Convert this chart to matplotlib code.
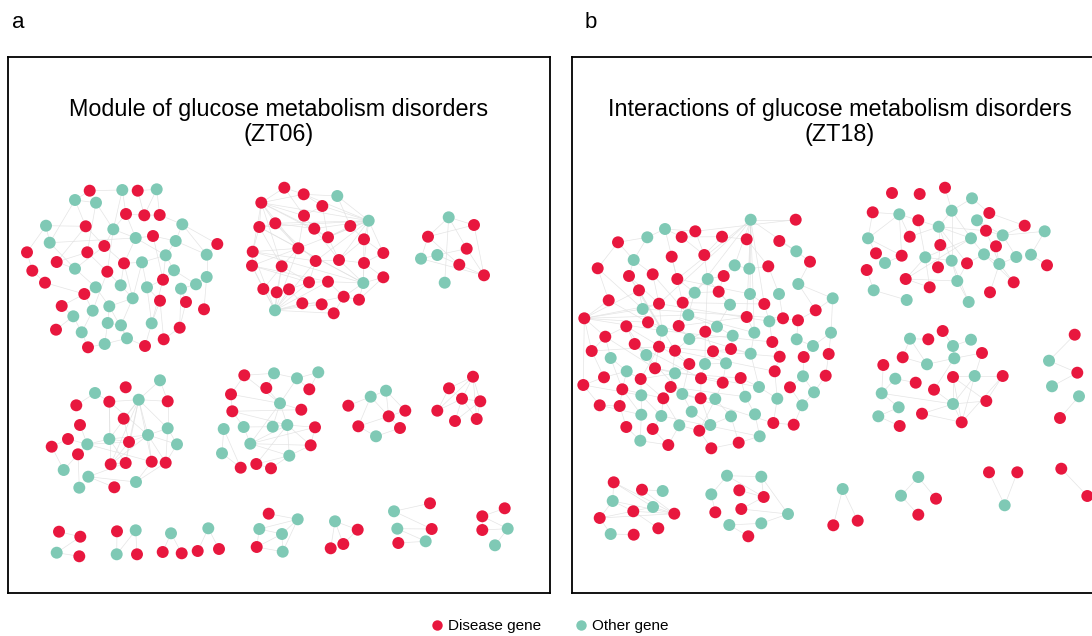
import matplotlib
matplotlib.use('Agg')
import matplotlib.pyplot as plt
from matplotlib.collections import LineCollection
from matplotlib.lines import Line2D

plt.rcParams['font.family'] = ['Liberation Sans', 'DejaVu Sans']

RED = '#e8173e'
TEAL = '#7fc9b5'
EDGE = '#e0e0e0'

# Layout of each gene module: (x, y, kind), D = disease gene, O = other gene
# ---- ZT06 ----
a1_nodes = [(89.7, 190.7, 'D'), (122.3, 190, 'O'), (137.7, 190.7, 'D'), (156.7, 189.3, 'O'),
            (75, 200, 'O'), (96, 202.7, 'O'), (126, 214, 'D'), (144.3, 215.3, 'D'),
            (159.7, 215, 'D'), (46, 225.7, 'O'), (85.7, 226.3, 'D'), (113.3, 229.3, 'O'),
            (182.3, 224.3, 'O'), (153, 236, 'D'), (135.7, 238, 'O'), (175.7, 241, 'O'),
            (217.3, 244, 'D'), (49.7, 242.7, 'O'), (104.3, 246, 'D'), (87.3, 252.3, 'D'),
            (27, 252.3, 'D'), (165.7, 255.3, 'O'), (206.7, 254.7, 'O'), (56.7, 262, 'D'),
            (124, 263.3, 'D'), (142, 262.3, 'O'), (32.3, 270.7, 'D'), (75, 268.7, 'O'),
            (107.3, 271.7, 'D'), (174, 270.3, 'O'), (45, 282.7, 'D'), (163, 279.7, 'D'),
            (206.7, 277, 'O'), (196, 284.3, 'O'), (95.7, 287.3, 'O'), (120.7, 285.3, 'O'),
            (147, 287.3, 'O'), (181, 288.7, 'O'), (84.3, 294, 'D'), (132.7, 298.3, 'O'),
            (160, 300.7, 'D'), (186, 302, 'D'), (204, 309.3, 'D'), (61.7, 306, 'D'),
            (109.3, 306.3, 'O'), (92.7, 310.7, 'O'), (73.3, 316.3, 'O'), (107.7, 323, 'O'),
            (121, 325.3, 'O'), (151.7, 323.3, 'O'), (179.7, 327.7, 'D'), (56, 329.7, 'D'),
            (81.7, 332.3, 'O'), (127, 338.3, 'O'), (163.7, 339.3, 'D'), (88, 347.3, 'D'),
            (104.7, 344, 'O'), (145, 346, 'D')]
a1_edges = [(0, 1), (2, 3), (0, 4), (4, 5), (5, 11), (4, 17), (4, 10), (5, 19), (6, 7), (7, 8),
            (8, 12), (3, 8), (1, 6), (6, 11), (11, 14), (9, 10), (9, 17), (9, 20), (10, 18),
            (11, 18), (12, 15), (12, 22), (13, 14), (13, 15), (14, 21), (15, 21), (16, 22),
            (15, 22), (17, 27), (17, 14), (18, 24), (18, 27), (19, 23), (20, 26), (21, 25),
            (21, 29), (22, 32), (23, 27), (24, 25), (24, 35), (24, 39), (25, 36), (26, 30),
            (27, 34), (28, 35), (28, 19), (29, 31), (29, 33), (30, 38), (31, 36), (31, 49),
            (32, 33), (32, 42), (33, 37), (34, 38), (34, 44), (35, 39), (36, 40), (37, 41),
            (37, 50), (38, 45), (39, 44), (39, 48), (40, 49), (40, 54), (41, 50), (43, 46),
            (43, 38), (44, 47), (45, 52), (46, 51), (46, 52), (47, 56), (47, 48), (48, 53),
            (49, 57), (50, 54), (52, 55), (53, 57), (53, 56), (55, 56), (14, 24), (3, 7),
            (11, 28), (13, 31), (25, 39), (28, 45), (6, 14), (16, 12), (2, 7), (1, 11),
            (10, 23), (36, 49), (44, 53), (21, 31)]

a2_nodes = [(284.3, 187.7, 'D'), (303.7, 194.3, 'D'), (337.3, 196, 'O'), (261.3, 202.7, 'D'),
            (322.3, 206, 'D'), (304, 215.7, 'D'), (368.7, 220.7, 'O'), (259.3, 227, 'D'),
            (275.3, 223.3, 'D'), (314.3, 228.7, 'D'), (350.3, 226, 'D'), (328, 237.3, 'D'),
            (364, 239.3, 'D'), (298.3, 248.3, 'D'), (252.7, 251.7, 'D'), (383.3, 253, 'D'),
            (315.7, 261, 'D'), (339, 260, 'D'), (252, 265.7, 'D'), (281.7, 266.3, 'D'),
            (364, 263, 'D'), (309, 282.3, 'D'), (328, 281.7, 'D'), (363.3, 283, 'O'),
            (383.3, 277.3, 'D'), (263.3, 289, 'D'), (276.7, 292.3, 'D'), (289, 289.3, 'D'),
            (343.7, 296.7, 'D'), (359, 299.7, 'D'), (302.3, 303.3, 'D'), (321.7, 304.3, 'D'),
            (275, 310.3, 'O'), (333.7, 313.3, 'D')]
a2_edges = [(3, 0), (3, 1), (3, 5), (3, 8), (3, 9), (3, 11), (3, 13), (3, 6), (3, 7), (3, 14),
            (3, 19), (6, 2), (6, 4), (6, 10), (6, 11), (6, 12), (6, 13), (6, 16), (6, 17),
            (6, 7), (6, 8), (6, 15), (6, 20), (6, 9), (6, 1), (32, 25), (32, 26), (32, 27),
            (32, 30), (32, 21), (32, 13), (32, 14), (32, 18), (32, 22), (32, 16), (32, 28),
            (32, 31), (32, 33), (32, 19), (23, 20), (23, 24), (23, 22), (23, 17), (23, 29),
            (23, 28), (23, 13), (23, 14), (23, 7), (23, 12), (0, 1), (1, 2), (1, 4), (4, 5),
            (5, 9), (8, 13), (7, 14), (14, 18), (18, 25), (25, 26), (26, 27), (27, 30),
            (30, 31), (31, 33), (28, 29), (28, 33), (21, 22), (21, 16), (16, 17), (17, 20),
            (20, 24), (12, 15), (10, 12), (9, 11), (11, 17), (13, 19), (19, 21), (8, 9),
            (7, 8), (10, 11), (7, 19), (14, 16), (18, 22), (18, 21), (24, 29), (15, 20),
            (2, 10), (5, 13), (8, 16), (9, 17), (22, 28), (27, 21), (26, 19), (0, 5),
            (4, 11), (12, 17), (14, 13), (18, 13), (7, 13), (25, 19)]

a3_nodes = [(448.7, 217.3, 'O'), (474, 225, 'D'), (428, 236.7, 'D'), (466.7, 248.7, 'D'),
            (437.3, 255, 'O'), (421, 258.7, 'O'), (459.3, 264.7, 'D'), (484, 275.3, 'D'),
            (444.7, 282.7, 'O')]
a3_edges = [(0, 2), (0, 1), (0, 3), (0, 8), (2, 1), (1, 7), (2, 5), (2, 6), (4, 3), (4, 6),
            (5, 7), (6, 7), (3, 7), (4, 5)]

a4_nodes = [(160, 380.3, 'O'), (95, 393, 'O'), (125.7, 387.3, 'D'), (109.3, 401.7, 'D'),
            (138.7, 399.7, 'O'), (167.7, 401.3, 'D'), (76.3, 405.3, 'D'), (123.7, 418.7, 'D'),
            (80, 425, 'D'), (167.7, 428.3, 'O'), (68, 439, 'D'), (109.3, 439, 'O'),
            (148, 435, 'O'), (129, 442, 'D'), (87.3, 444.3, 'O'), (177, 444.3, 'O'),
            (51.7, 446.7, 'D'), (78, 454.3, 'D'), (110.7, 464.3, 'D'), (125.7, 463, 'D'),
            (151.7, 461.7, 'D'), (165.7, 462.7, 'D'), (63.7, 470, 'O'), (88.3, 476.7, 'O'),
            (136, 482, 'O'), (79.3, 487.7, 'O'), (114.3, 487.3, 'D')]
a4_edges = [(0, 4), (0, 5), (1, 3), (1, 6), (3, 4), (4, 5), (4, 7), (4, 12), (4, 13), (4, 19),
            (4, 18), (4, 9), (4, 20), (3, 11), (3, 18), (7, 13), (8, 14), (10, 14), (10, 16),
            (16, 22), (14, 17), (14, 11), (11, 13), (11, 12), (12, 13), (12, 15), (12, 9),
            (13, 18), (13, 19), (12, 21), (12, 20), (9, 21), (5, 9), (15, 21), (17, 25),
            (22, 17), (23, 24), (23, 19), (24, 20), (24, 21), (18, 19), (23, 26), (14, 13),
            (11, 19), (12, 18), (3, 12), (9, 15), (14, 20), (4, 11)]

a5_nodes = [(244.3, 375.3, 'D'), (274, 373.3, 'O'), (297, 378.3, 'O'), (318.3, 372.3, 'O'),
            (266.3, 388, 'D'), (309.3, 389.3, 'D'), (231, 394.3, 'D'), (280, 403.3, 'O'),
            (232.3, 411.3, 'D'), (301.3, 409.7, 'D'), (223.7, 429, 'O'), (243.7, 427, 'O'),
            (272.7, 426.7, 'O'), (287.3, 425, 'O'), (315, 427.3, 'D'), (250.3, 443.7, 'O'),
            (310.7, 445.3, 'D'), (222, 453.3, 'O'), (289.3, 455.7, 'O'), (240.7, 467.7, 'D'),
            (256.3, 464, 'D'), (271, 468.3, 'D')]
a5_edges = [(0, 1), (1, 2), (2, 3), (2, 5), (3, 5), (0, 6), (0, 7), (1, 4), (2, 7), (6, 8),
            (7, 9), (7, 13), (7, 15), (7, 12), (8, 9), (8, 13), (10, 17), (10, 19), (11, 12),
            (11, 15), (12, 13), (13, 14), (13, 15), (13, 16), (13, 18), (14, 16), (15, 16),
            (15, 18), (16, 18), (18, 20), (18, 21), (20, 21), (17, 19), (6, 7), (8, 11),
            (15, 14), (13, 20), (4, 7)]

a6_nodes = [(348.3, 405.7, 'D'), (370.7, 396.7, 'O'), (386, 390.7, 'O'), (388.7, 416.3, 'D'),
            (405.3, 410.7, 'D'), (358.3, 426.3, 'D'), (400, 428, 'D'), (376, 436.3, 'O')]
a6_edges = [(0, 1), (1, 2), (1, 3), (2, 3), (2, 4), (3, 5), (3, 6), (5, 7), (7, 6), (1, 5),
            (3, 4)]

a7_nodes = [(473, 376.7, 'D'), (449, 388.3, 'D'), (462, 398.7, 'D'), (480.3, 401.3, 'D'),
            (437.3, 410.7, 'D'), (455, 421, 'D'), (476.7, 419, 'D')]
a7_edges = [(0, 1), (0, 2), (0, 3), (0, 4), (1, 2), (1, 4), (2, 3), (2, 5), (3, 6), (4, 2),
            (5, 3), (0, 6), (2, 6)]

a8_nodes = [(59, 531.7, 'D'), (80.3, 536.7, 'D'), (56.7, 552.7, 'O'), (79.3, 556.3, 'D')]
a8_edges = [(0, 1), (1, 2), (2, 3)]
a9_nodes = [(117, 531.3, 'D'), (135.7, 530.3, 'O'), (116.7, 554.3, 'O'), (137, 554.3, 'D')]
a9_edges = [(0, 2), (1, 2), (1, 3)]
a10_nodes = [(171, 533.3, 'O'), (162.7, 552, 'D'), (181.7, 553.3, 'D')]
a10_edges = [(0, 1), (0, 2)]
a11_nodes = [(208.3, 528.3, 'O'), (197.7, 551, 'D'), (219, 549, 'D')]
a11_edges = [(0, 1), (0, 2)]
a12_nodes = [(268.7, 513.7, 'D'), (297.7, 519.3, 'O'), (259.3, 529, 'O'), (282, 534, 'O'),
             (256.7, 547, 'D'), (282.7, 551.7, 'O')]
a12_edges = [(0, 1), (2, 1), (2, 3), (1, 3), (2, 4), (4, 3), (4, 5), (3, 5), (1, 5)]
a13_nodes = [(335, 521.3, 'O'), (357.7, 529.7, 'D'), (343.3, 544, 'D'), (330.7, 548.3, 'D')]
a13_edges = [(0, 1), (0, 2), (0, 3), (1, 2)]
a14_nodes = [(394, 511.3, 'O'), (430, 503.3, 'D'), (397.3, 528.7, 'O'), (431.7, 529, 'D'),
             (398.3, 543, 'D'), (425.7, 541.3, 'O')]
a14_edges = [(0, 1), (0, 3), (2, 3), (2, 5), (4, 5)]
a15_nodes = [(504.7, 508.3, 'D'), (482.3, 516.3, 'D'), (482.3, 530, 'D'), (507.7, 528.7, 'O'),
             (495, 545.3, 'O')]
a15_edges = [(0, 1), (1, 3), (2, 3), (3, 4), (1, 2)]

# ---- ZT18 ----
b1_nodes = [(665, 229, 'O'), (695.3, 231.3, 'D'), (647.3, 237.3, 'O'), (681.7, 237, 'D'),
            (618, 242.3, 'D'), (671.7, 256.7, 'D'), (704.3, 255, 'D'), (633.7, 260, 'O'),
            (597.7, 268.3, 'D'), (629, 276, 'D'), (652.7, 274.3, 'D'), (677.3, 279, 'D'),
            (707.7, 279, 'O'), (639, 290.3, 'D'), (694.7, 292.7, 'O'), (608.7, 300.3, 'D'),
            (659, 303.7, 'D'), (682.7, 302.7, 'D'), (642.7, 309, 'O'), (688.3, 315, 'O'),
            (584.3, 318.3, 'D'), (648, 322.3, 'D'), (626.3, 326.3, 'D'), (678.7, 326, 'D'),
            (662, 330.7, 'O'), (705.3, 331.7, 'D'), (605.3, 336.7, 'D'), (689.3, 339, 'O'),
            (634.7, 344, 'D'), (659, 346.7, 'D'), (675, 350.7, 'D'), (591.7, 351, 'D'),
            (646.3, 355, 'O'), (610.7, 358, 'O'), (689.3, 364, 'D'), (705, 364, 'O'),
            (655, 368.3, 'D'), (626.7, 371.3, 'O'), (675, 373.3, 'O'), (604, 377.3, 'D'),
            (640.7, 379, 'D'), (701, 378.3, 'D'), (583.3, 385, 'D'), (622.3, 389.3, 'D'),
            (670.7, 387, 'D'), (641.3, 395.3, 'O'), (682.3, 394, 'O'), (663.3, 398.3, 'D'),
            (700.7, 398.3, 'D'), (599.7, 405.3, 'D'), (619.7, 406, 'D'), (691.7, 411.7, 'O'),
            (641.3, 414.7, 'O'), (661.3, 416, 'O'), (710.3, 425, 'O'), (626.3, 427, 'D'),
            (652.7, 429, 'D'), (679.3, 425.3, 'O'), (699.3, 430.7, 'D'), (640.3, 440.7, 'O'),
            (668.3, 445, 'D'), (711.3, 448.3, 'D'),
            (750.7, 219.7, 'O'), (795.7, 219.7, 'D'), (722, 236.7, 'D'), (746.7, 239.3, 'D'),
            (779.3, 241, 'D'), (796.3, 251.3, 'O'), (810, 261.7, 'D'), (734.7, 265.3, 'O'),
            (749.3, 268.7, 'O'), (768.3, 266.3, 'D'), (723.7, 276, 'D'), (798.3, 284, 'O'),
            (718.7, 291.7, 'D'), (750, 294, 'O'), (779, 294, 'O'), (832.7, 298.3, 'O'),
            (730, 304.7, 'O'), (764.3, 304, 'D'), (815.7, 310.3, 'D'), (746.7, 317, 'D'),
            (783, 318.3, 'D'), (798, 320.3, 'D'), (769.3, 321.3, 'O'), (717, 326.7, 'O'),
            (732.7, 335.7, 'O'), (754.3, 332.7, 'O'), (831, 332.7, 'O'), (796.7, 339.3, 'O'),
            (772.3, 342, 'D'), (813, 346, 'O'), (713, 351.3, 'D'), (731, 349, 'D'),
            (750.7, 353.7, 'O'), (779.7, 356.7, 'D'), (803.7, 357, 'D'), (828.7, 354, 'D'),
            (726, 363.3, 'O'), (774.7, 371.3, 'D'), (803, 376.3, 'O'), (825.7, 375.7, 'D'),
            (722.7, 382.7, 'D'), (740.7, 378, 'D'), (759, 387, 'O'), (790, 387.3, 'D'),
            (814, 392.3, 'O'), (715.3, 399, 'O'), (745.3, 396.7, 'O'), (777.3, 398.7, 'O'),
            (802.3, 405.3, 'O'), (731, 416.3, 'O'), (755, 414.3, 'O'), (773.3, 423, 'D'),
            (793.7, 424.7, 'D'), (759.7, 436.3, 'O'), (738.7, 442.7, 'D')]
b1_edges = [(0, 1), (0, 2), (0, 3), (0, 5), (2, 4), (2, 7), (4, 8), (4, 7), (7, 9), (7, 10),
            (5, 11), (3, 6), (6, 12), (1, 6), (8, 15), (9, 13), (10, 16), (11, 14), (12, 14),
            (12, 72), (13, 18), (14, 17), (15, 20), (16, 18), (16, 24), (17, 19), (18, 21),
            (19, 23), (20, 26), (20, 31), (20, 42), (20, 13), (20, 18), (20, 21), (20, 24),
            (20, 16), (20, 19), (21, 24), (22, 28), (22, 26), (23, 27), (24, 29), (25, 27),
            (25, 35), (26, 31), (26, 33), (27, 30), (28, 32), (29, 36), (30, 34), (31, 39),
            (32, 36), (33, 37), (34, 38), (35, 41), (36, 38), (37, 40), (37, 43), (38, 44),
            (39, 42), (40, 45), (41, 48), (42, 49), (43, 50), (44, 47), (45, 52), (46, 51),
            (46, 48), (47, 53), (49, 50), (50, 55), (51, 54), (52, 59), (53, 56), (54, 58),
            (55, 59), (56, 60), (57, 58), (57, 60), (58, 61), (59, 60), (9, 16), (13, 24),
            (14, 19), (17, 23), (22, 32), (28, 36), (29, 40), (30, 44), (33, 43), (34, 46),
            (40, 47), (43, 52), (45, 53), (47, 57), (48, 54), (12, 25), (6, 64), (3, 64),
            (1, 63), (62, 63), (62, 65), (62, 69), (62, 70), (62, 75), (62, 79), (62, 81),
            (62, 11), (62, 16), (62, 14), (62, 67), (62, 87), (64, 65), (65, 71), (66, 67),
            (67, 68), (68, 73), (69, 72), (69, 70), (70, 71), (71, 76), (72, 74), (73, 77),
            (73, 80), (74, 78), (75, 79), (76, 82), (77, 80), (77, 88), (78, 85), (79, 84),
            (80, 83), (81, 87), (82, 83), (82, 84), (83, 89), (84, 90), (85, 86), (86, 93),
            (87, 94), (88, 91), (88, 97), (89, 91), (90, 95), (91, 96), (92, 93), (92, 98),
            (93, 94), (94, 104), (95, 99), (96, 100), (97, 101), (98, 102), (99, 109),
            (100, 105), (100, 106), (101, 106), (102, 107), (103, 104), (103, 108), (104, 109),
            (105, 110), (106, 110), (107, 111), (108, 112), (109, 113), (110, 114), (111, 116),
            (112, 115), (113, 114), (115, 116), (12, 78), (14, 74), (19, 85), (25, 92),
            (27, 86), (35, 98), (41, 102), (48, 107), (54, 111), (61, 116), (58, 107),
            (23, 81), (17, 79), (11, 75), (19, 87), (24, 90), (29, 95), (30, 99), (36, 104),
            (38, 103), (44, 108), (46, 113), (53, 115), (21, 94), (16, 84), (18, 82), (13, 30),
            (9, 24), (22, 34), (31, 29), (26, 36), (8, 18), (15, 21), (39, 37), (42, 45),
            (49, 52), (10, 19), (5, 17), (28, 41), (32, 46), (40, 38), (43, 47)]

b2_nodes = [(945, 187.7, 'D'), (892, 193, 'D'), (919.7, 194, 'D'), (972, 198.3, 'O'),
            (872.7, 212.3, 'D'), (899.3, 214.3, 'O'), (951.7, 210.7, 'O'), (989.3, 213, 'D'),
            (918.3, 220.3, 'D'), (977, 220.3, 'O'), (1024.7, 225.7, 'D'), (938.7, 226.7, 'O'),
            (986, 230.7, 'D'), (1044.7, 231.3, 'O'), (868, 238.3, 'O'), (909.7, 236.7, 'D'),
            (1002.7, 235.3, 'O'), (971, 238.3, 'O'), (940.3, 245, 'D'), (996, 246.3, 'D'),
            (876, 253.3, 'D'), (901.7, 255.7, 'D'), (925.3, 257.3, 'O'), (984, 254.3, 'O'),
            (1016.3, 257, 'O'), (1031, 254.7, 'O'), (885, 263, 'O'), (951.7, 260.7, 'O'),
            (967, 263.3, 'D'), (999.3, 264, 'O'), (1047, 265.3, 'D'), (938, 267.3, 'D'),
            (866.7, 270, 'D'), (905.7, 279, 'D'), (957.3, 281, 'O'), (1013.7, 282.3, 'D'),
            (929.7, 287.3, 'D'), (873.7, 290.3, 'O'), (990, 292.3, 'D'), (906.7, 300, 'O'),
            (968.7, 302, 'O')]
b2_edges = [(0, 6), (3, 6), (3, 7), (6, 11), (6, 27), (6, 17), (4, 5), (4, 14), (5, 8),
            (5, 14), (5, 15), (5, 21), (8, 11), (8, 22), (11, 17), (11, 12), (11, 18),
            (11, 27), (11, 28), (9, 12), (7, 10), (10, 16), (12, 16), (16, 19), (16, 24),
            (16, 13), (13, 25), (25, 30), (17, 23), (17, 22), (18, 31), (22, 27), (22, 33),
            (22, 36), (23, 29), (19, 29), (27, 34), (27, 40), (28, 34), (28, 23), (29, 35),
            (29, 38), (14, 20), (32, 37), (37, 39), (33, 34), (33, 36), (21, 14), (34, 40),
            (17, 33), (12, 29), (23, 35), (11, 15), (9, 16), (24, 29), (26, 21)]

b3_nodes = [(942.7, 331, 'D'), (910, 338.7, 'O'), (928.3, 339.3, 'D'), (971, 339.7, 'O'),
            (953, 346, 'O'), (982, 353, 'D'), (902.7, 357.3, 'D'), (954.3, 358.3, 'O'),
            (883.3, 365, 'D'), (927, 364.3, 'O'), (953, 377, 'D'), (974.7, 376, 'O'),
            (1002.7, 376, 'D'), (895.3, 378.7, 'O'), (915.7, 382.7, 'D'), (934, 389.7, 'D'),
            (881.7, 393.3, 'O'), (986.3, 401, 'D'), (953, 404, 'O'), (898.7, 407.3, 'O'),
            (922, 413.7, 'D'), (878.3, 416.3, 'O'), (961.7, 422.3, 'D'), (899.7, 426, 'D')]
b3_edges = [(0, 4), (1, 2), (1, 9), (3, 4), (4, 7), (5, 7), (5, 11), (6, 9), (7, 9), (8, 16),
            (10, 11), (10, 18), (10, 22), (10, 17), (11, 12), (11, 18), (11, 22), (12, 17),
            (12, 22), (13, 14), (15, 18), (16, 19), (16, 18), (17, 18), (18, 20), (18, 22),
            (19, 21), (20, 22), (21, 23), (15, 7), (6, 1), (13, 16)]

b4_nodes = [(1074.7, 334.7, 'D'), (1049, 360.7, 'O'), (1077.3, 372.7, 'D'), (1052, 386.3, 'O'),
            (1079, 396.3, 'O'), (1060, 418, 'D')]
b4_edges = [(0, 1), (1, 2), (3, 2), (4, 5)]

b5_nodes = [(613.7, 482.3, 'D'), (642, 489.7, 'D'), (662.7, 491, 'O'), (612.7, 501, 'O'),
            (653, 507, 'O'), (633.3, 511.3, 'D'), (674.3, 513.7, 'D'), (599.7, 518, 'D'),
            (658.3, 528.3, 'D'), (610.7, 534, 'O'), (633.7, 534.7, 'D')]
b5_edges = [(0, 3), (0, 6), (0, 4), (3, 7), (3, 5), (3, 6), (7, 6), (7, 4), (5, 6), (4, 6),
            (5, 8), (7, 9), (9, 10), (1, 2), (1, 6)]

b6_nodes = [(727, 475.7, 'O'), (761.3, 476.7, 'O'), (739.3, 490.3, 'D'), (711.3, 494.3, 'O'),
            (763.7, 497, 'D'), (741.3, 509, 'D'), (715.3, 512.3, 'D'), (788, 514, 'O'),
            (729.3, 525, 'O'), (761.3, 523.3, 'O'), (748.3, 536.3, 'D')]
b6_edges = [(0, 1), (0, 3), (0, 4), (1, 4), (1, 7), (3, 6), (2, 4), (4, 5), (5, 7), (8, 9),
            (9, 7), (8, 10)]

b7_nodes = [(842.7, 489, 'O'), (833.3, 525.3, 'D'), (857.7, 520.7, 'D')]
b7_edges = [(0, 1), (0, 2)]
b8_nodes = [(918.3, 477, 'O'), (901, 495.7, 'O'), (936, 498.7, 'D'), (918.3, 514.7, 'D')]
b8_edges = [(0, 1), (0, 2), (1, 3)]
b9_nodes = [(989, 472.3, 'D'), (1017.3, 472.3, 'D'), (1004.7, 505.3, 'O')]
b9_edges = [(0, 2), (1, 2)]
b10_nodes = [(1061.3, 468.7, 'D'), (1087.3, 496, 'D')]
b10_edges = [(0, 1)]

panel_a = [(a1_nodes, a1_edges), (a2_nodes, a2_edges), (a3_nodes, a3_edges),
           (a4_nodes, a4_edges), (a5_nodes, a5_edges), (a6_nodes, a6_edges),
           (a7_nodes, a7_edges), (a8_nodes, a8_edges), (a9_nodes, a9_edges),
           (a10_nodes, a10_edges), (a11_nodes, a11_edges), (a12_nodes, a12_edges),
           (a13_nodes, a13_edges), (a14_nodes, a14_edges), (a15_nodes, a15_edges)]
panel_b = [(b1_nodes, b1_edges), (b2_nodes, b2_edges), (b3_nodes, b3_edges),
           (b4_nodes, b4_edges), (b5_nodes, b5_edges), (b6_nodes, b6_edges),
           (b7_nodes, b7_edges), (b8_nodes, b8_edges), (b9_nodes, b9_edges),
           (b10_nodes, b10_edges)]

titles = ['Module of glucose metabolism disorders\n(ZT06)',
          'Interactions of glucose metabolism disorders\n(ZT18)']
legend_labels = ['Disease gene', 'Other gene']


def draw_network(ax, clusters):
    for nodes, edges in clusters:
        segs = [[nodes[i][:2], nodes[j][:2]] for i, j in edges]
        ax.add_collection(LineCollection(segs, colors=EDGE, linewidths=0.5, alpha=0.85, zorder=1))
        xs = [n[0] for n in nodes]
        ys = [n[1] for n in nodes]
        cols = [RED if n[2] == 'D' else TEAL for n in nodes]
        ax.scatter(xs, ys, s=74, c=cols, linewidths=0, zorder=2)


W, H = 1092, 636
fig = plt.figure(figsize=(W / 100, H / 100), dpi=100)

boxes = [(8, 550), (572, 1107)]
top, bottom = 57, 593
for (x0, x1), clusters, title in zip(boxes, [panel_a, panel_b], titles):
    ax = fig.add_axes([x0 / W, (H - bottom) / H, (x1 - x0) / W, (bottom - top) / H])
    ax.set_xlim(x0, x1)
    ax.set_ylim(bottom, top)
    ax.set_xticks([])
    ax.set_yticks([])
    for sp in ax.spines.values():
        sp.set_linewidth(1.3)
        sp.set_color('black')
    draw_network(ax, clusters)
    ax.text((x0 + x1) / 2, 122, title, ha='center', va='center',
            fontsize=16.8, linespacing=1.12)

fig.text(18 / W, 1 - 22 / H, 'a', fontsize=16, ha='center', va='center')
fig.text(591 / W, 1 - 22 / H, 'b', fontsize=16, ha='center', va='center')

handles = [Line2D([], [], marker='o', linestyle='none', markersize=7.5, color=RED, markeredgewidth=0),
           Line2D([], [], marker='o', linestyle='none', markersize=7.5, color=TEAL, markeredgewidth=0)]
fig.legend(handles, legend_labels, loc='center', bbox_to_anchor=(0.5028, 1 - 626 / H),
           ncol=2, frameon=False, fontsize=11, handletextpad=0.2, columnspacing=2.15,
           handlelength=1.0)

fig.savefig('out.png', dpi=100)
